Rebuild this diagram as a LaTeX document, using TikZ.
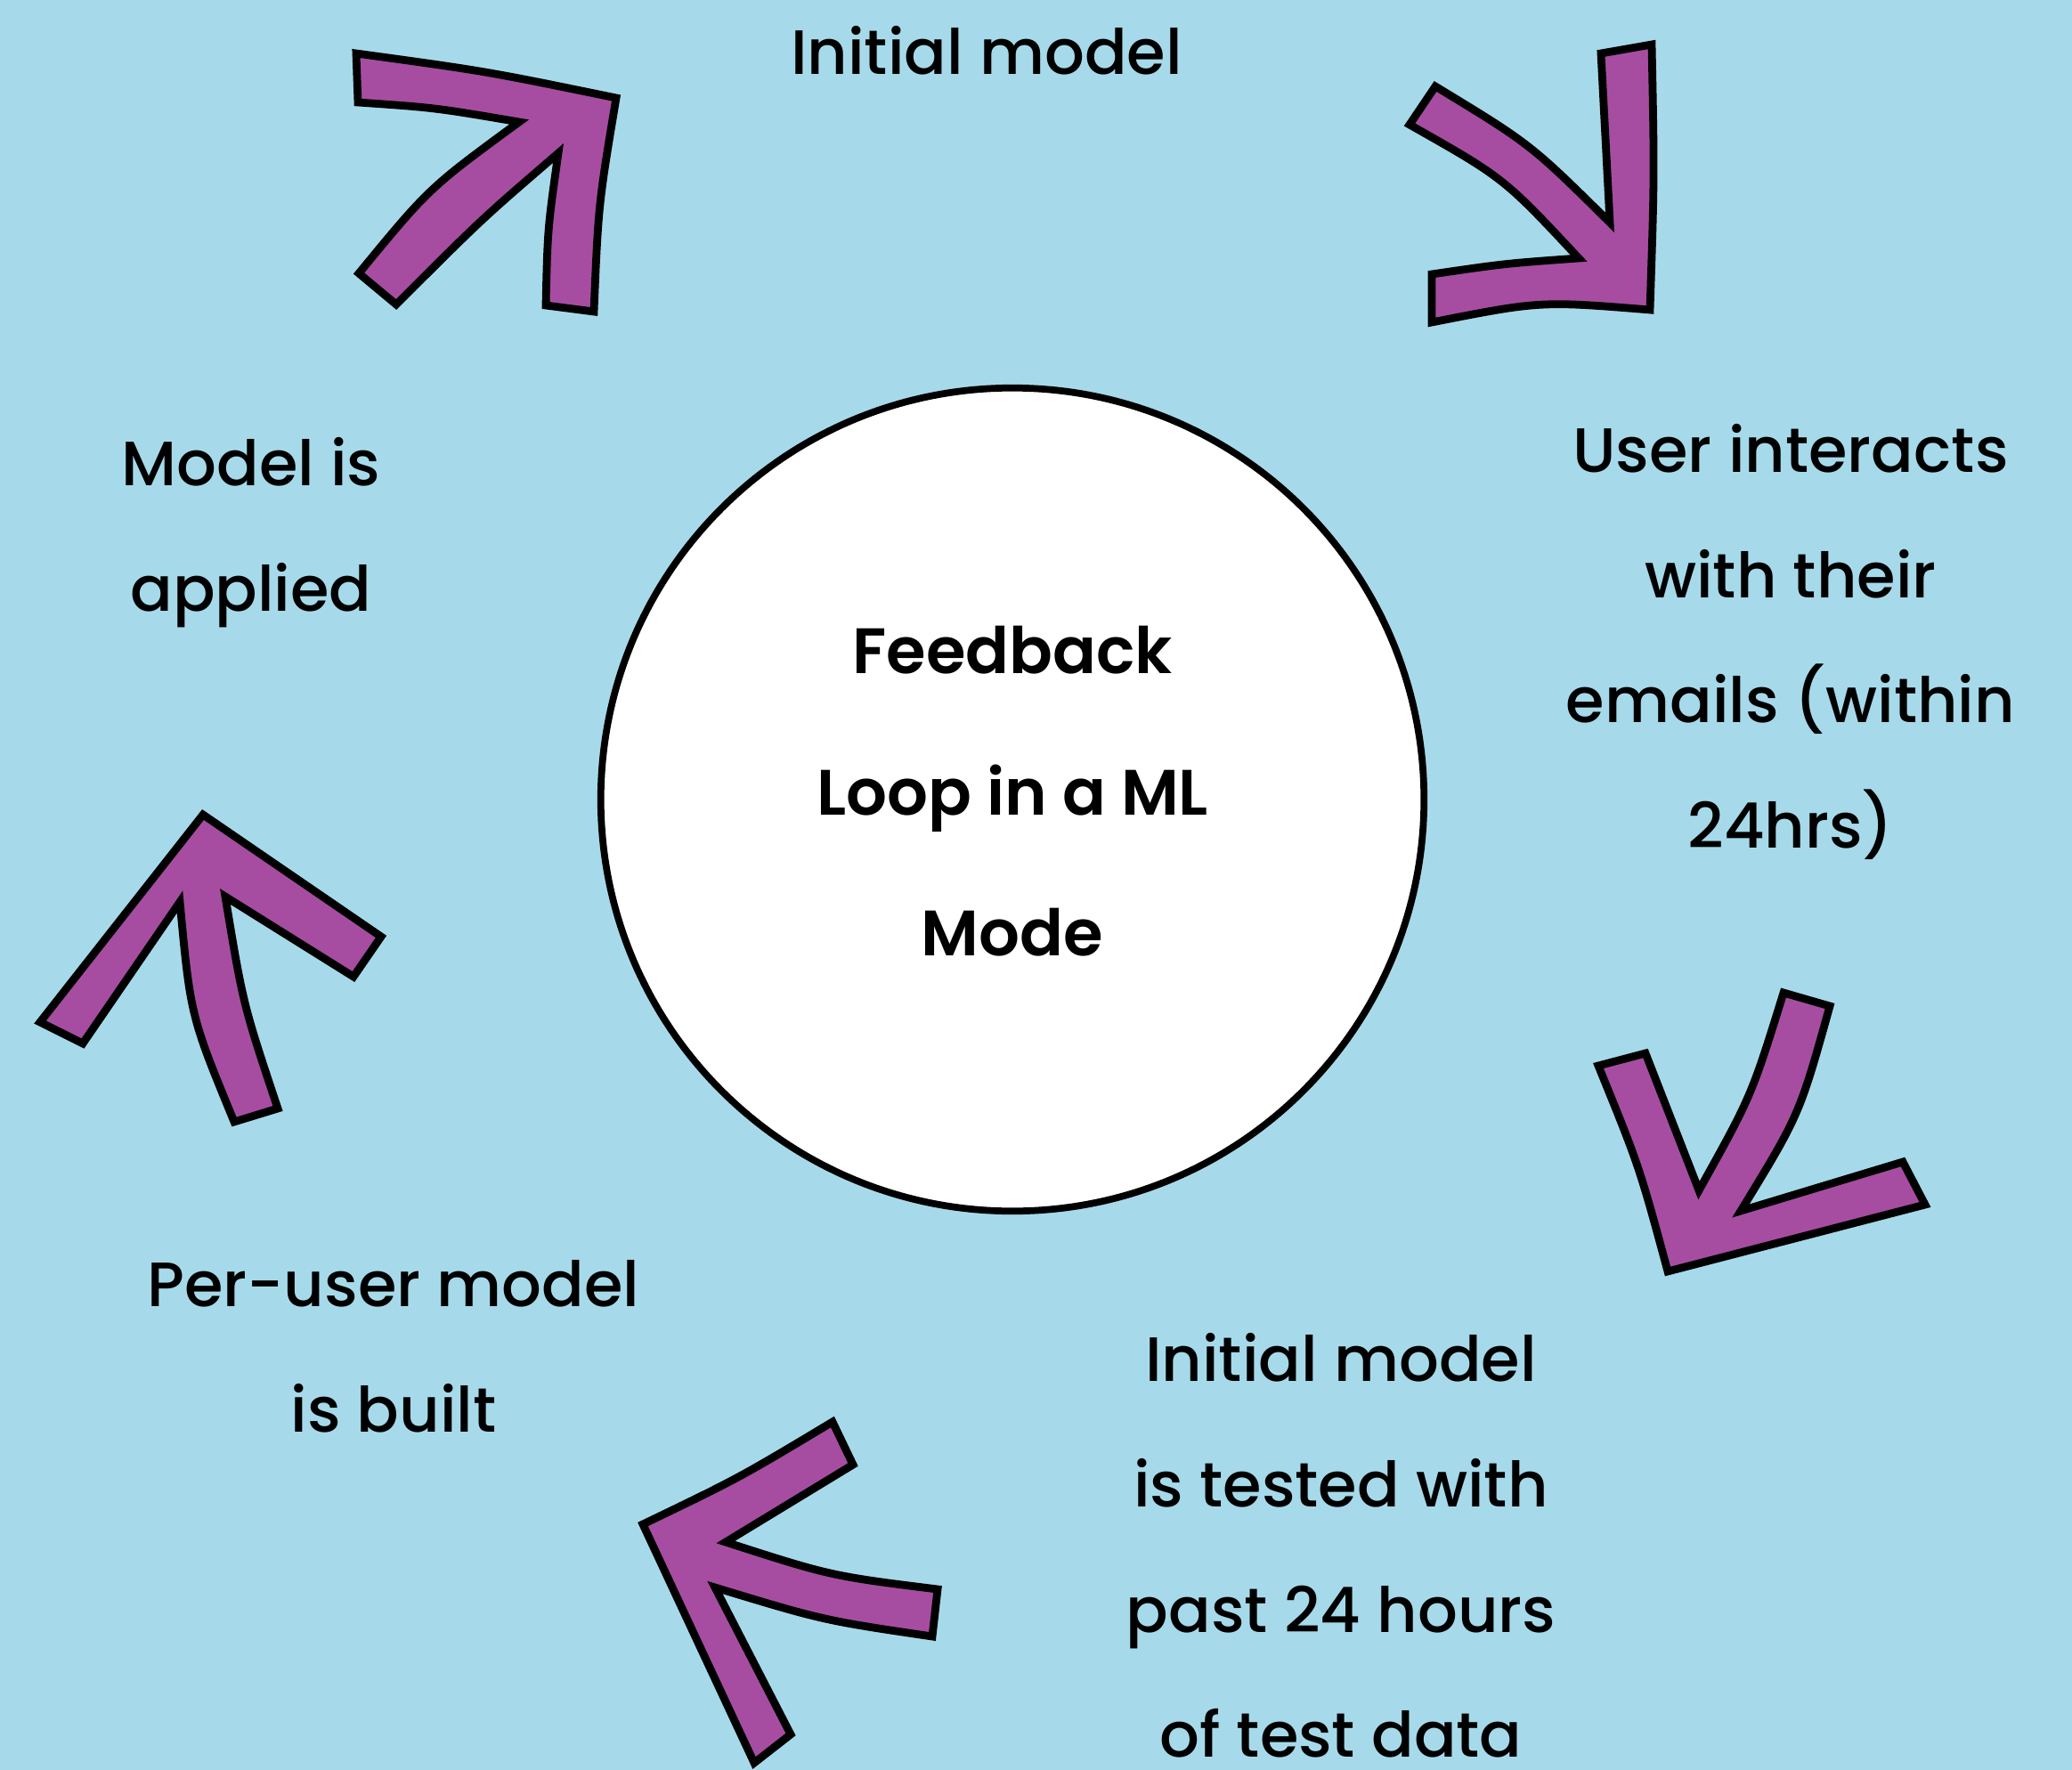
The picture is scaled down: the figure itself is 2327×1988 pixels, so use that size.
\documentclass[tikz,border=0pt]{standalone}
\usepackage{fontspec}
\IfFontExistsTF{Poppins Medium}{\def\stepweight{Poppins Medium}}{\def\stepweight{Poppins}}
\IfFontExistsTF{Poppins SemiBold}{\def\loopweight{Poppins SemiBold}}{\def\loopweight{Poppins Bold}}
\setmainfont{\stepweight}[BoldFont=\loopweight]
\definecolor{loopblue}{RGB}{166,218,234}
\definecolor{loopviolet}{RGB}{166,77,161}

\begin{document}
\begin{tikzpicture}[x=0.01cm, y=-0.01cm,
    bigarrow/.style={fill=loopviolet, draw=black, line width=2.5pt, line join=miter},
    steptext/.style={align=center, font=\fontsize{20pt}{40pt}\selectfont}]
    \fill[loopblue] (0,0) rectangle (2327,1988);
    \useasboundingbox (0,0) rectangle (2327,1988);

    % centre circle
    \node[draw, circle, fill=white, line width=2.2pt, minimum size=9.24cm, inner sep=0pt,
          align=center, font=\bfseries\fontsize{20.5pt}{45pt}\selectfont] (loop) at (1137,898)
          {Feedback\\Loop in a ML\\Mode\rule[-5.5pt]{0pt}{5.5pt}};

    % step labels
    \node[steptext] (initial) at (1108,57) {Initial model};
    \node[steptext] (applied) at (282,598) {Model is\\applied};
    \node[steptext] (interacts) at (2011,721) {User interacts\\with their\\emails (within\\24hrs)};
    \node[steptext] (tested) at (1506,1736) {Initial model\\is tested with\\past 24 hours\\of test data};
    \node[steptext] (built) at (442,1512) {Per-user model\\is built};

    % curved arrows, clockwise from the top left
    \draw[bigarrow] (400,60) .. controls (546,80) .. (692,110)
        .. controls (672,230) .. (667,350) -- (613,343)
        .. controls (615,257) .. (627,172)
        .. controls (541,246) .. (445,342) -- (403,307)
        .. controls (482,211) .. (583,137)
        .. controls (489,121) .. (402,115) -- cycle;

    \draw[bigarrow] (1798,60) -- (1855,50)
        .. controls (1858,199) .. (1853,348)
        .. controls (1730,338) .. (1608,362) -- (1608,308)
        .. controls (1690,296) .. (1773,290)
        .. controls (1689,200) .. (1583,140) -- (1612,97)
        .. controls (1719,162) .. (1808,250) -- cycle;

    \draw[bigarrow] (2003,1115) -- (2055,1130)
        .. controls (2021,1252) .. (1955,1360) -- (2137,1305) -- (2162,1353) -- (1873,1428)
        .. controls (1841,1310) .. (1795,1197) -- (1848,1183) -- (1908,1337)
        .. controls (1967,1231) .. (2003,1115) -- cycle;

    \draw[bigarrow] (722,1712) .. controls (830,1660) .. (935,1597) -- (958,1645) -- (815,1732)
        .. controls (933,1770) .. (1053,1785) -- (1047,1838)
        .. controls (925,1820) .. (803,1783) -- (888,1948) -- (847,1980) -- cycle;

    \draw[bigarrow] (228,915) -- (428,1052) -- (397,1097) -- (253,1007)
        .. controls (273,1128) .. (312,1245) -- (263,1260)
        .. controls (214,1141) .. (202,1013) -- (93,1172) -- (45,1148) -- cycle;
\end{tikzpicture}
\end{document}
